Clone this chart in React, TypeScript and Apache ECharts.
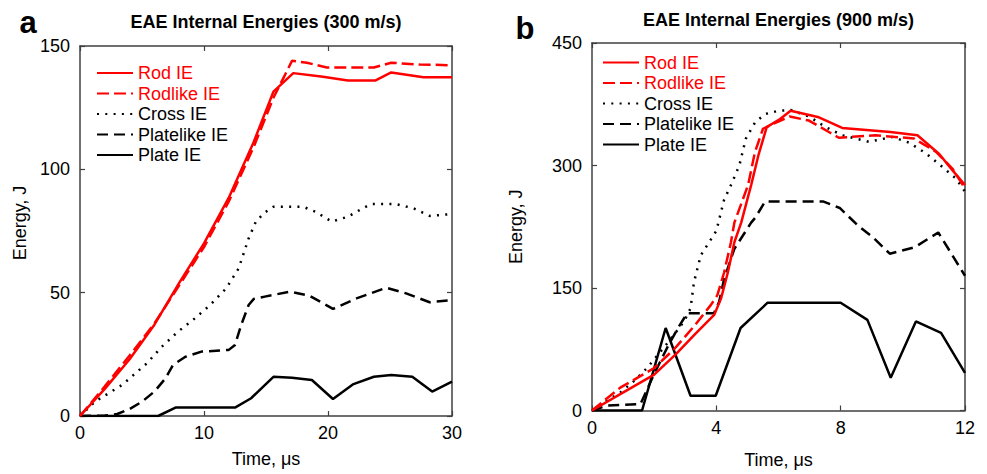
import React, { useEffect, useRef } from "react";
import * as echarts from "echarts";

// ---------- data (time µs, energy J) ----------
const rod300 = [[0,0],[2,11],[4,23],[6,37],[8,54],[10,70],[12,88.5],[14,111],[15.6,131.5],[17.2,139],[19.6,137.5],[21.6,136],[23.8,136],[25.1,139.3],[27.7,137.3],[30,137.3]];
const rodlike300 = [[0,0],[2,12],[4,24.5],[6,37.5],[8,53],[10,68.5],[12,87],[14,109],[15.6,129],[16.4,137],[17.1,144],[18.3,143.2],[19.9,141.3],[23.7,141.3],[25.1,143.2],[27.4,142.5],[30,142.2]];
const cross300 = [[0,0],[1.2,5.8],[2.3,9.2],[3.4,12.6],[5.4,21.4],[6.6,28.1],[7.9,34.2],[9.1,38.9],[10.5,45],[11.8,51.8],[12.8,59.9],[13.6,72],[14.2,79],[14.9,82.5],[15.6,84.8],[18,84.8],[19,82.8],[20.3,78.8],[21.6,80.8],[22.8,84.2],[23.5,85.9],[25.5,85.9],[26.9,84.2],[28.2,81.1],[30,81.9]];
const platelike300 = [[0,0],[2,0.2],[3,0.8],[4,2.8],[5,5.8],[6,9.9],[6.9,15.3],[7.5,20.7],[8.5,24],[9.8,26.1],[12,26.8],[12.5,28.8],[13,36.9],[13.6,45],[14,47.4],[14.9,48.4],[16.9,50.4],[18.5,48.8],[20.4,43.4],[22.3,47.7],[24.7,52],[26.3,49.7],[28.2,46.1],[30,47]];
const plate300 = [[0,0],[6.3,0],[7.7,3.4],[12.5,3.4],[13.8,7.2],[15.6,15.9],[17.1,15.5],[18.7,14.6],[20.4,6.9],[22,12.8],[23.7,15.9],[25.1,16.6],[26.8,15.9],[28.4,9.9],[30,13.9]];

const rod900 = [[0,0],[0.91,20],[2,44],[2.7,69],[3.3,93],[3.93,117],[4.15,137],[4.37,169],[4.58,206],[4.8,230],[5.12,276],[5.35,312],[5.62,347],[6.05,357],[6.39,367],[7.3,359],[8.05,346],[9.6,341],[10.47,337],[11.17,314],[11.6,294],[12,276]];
const rodlike900 = [[0,0],[0.91,28],[2,52],[2.64,75],[3.28,103],[3.82,129],[4.03,141],[4.25,169],[4.47,206],[4.58,230],[5.02,276],[5.24,316],[5.5,345],[5.77,350],[6.36,360],[6.98,355],[7.62,341],[7.94,334],[9.12,337],[10.36,333],[11.06,317],[11.6,296],[12,272]];
const cross900 = [[0,0],[0.48,12],[0.91,22],[1.35,36],[1.77,52],[2.31,77],[2.64,93],[2.96,109],[3.17,125],[3.28,157],[3.5,190],[4.0,220],[4.25,258],[4.47,276],[4.74,300],[4.95,333],[5.25,353],[5.57,363],[6,367],[6.39,368],[6.98,360],[7.52,347],[8.05,337],[8.91,329],[9.66,335],[10.2,328],[10.74,315],[11.28,298],[11.71,284],[12,268]];
const platelike900 = [[0,0],[0.48,6],[1.56,8],[1.99,44],[2.42,77],[2.75,100],[3.06,119],[3.92,119],[4.09,133],[4.25,161],[4.58,198],[5.12,230],[5.25,236],[5.57,256],[7.43,256],[7.97,248],[8.57,226],[9.04,212],[9.58,192],[10.39,200],[11.14,218],[12,165]];
const plate900 = [[0,0],[1.61,0],[2.37,101],[3.17,18],[3.98,18],[4.78,101],[5.65,132],[8,132],[8.86,111],[9.61,40],[10.42,109],[11.23,95],[12,46]];

const seriesNames = ["Rod IE", "Rodlike IE", "Cross IE", "Platelike IE", "Plate IE"];
const titles = ["EAE Internal Energies (300 m/s)", "EAE Internal Energies (900 m/s)"];
const panelLetters = ["a", "b"];
const xName = "Time, μs";
const yName = "Energy, J";

const FONT = 'Arial, "Liberation Sans", sans-serif';
const RED = "#ff0000";
const BLACK = "#000000";
const FRAME = "#404040";

const styles = [
  { color: RED, type: "solid" as any },
  { color: RED, type: [12, 5] as any },
  { color: BLACK, type: [2, 6.3] as any },
  { color: BLACK, type: [11, 6] as any },
  { color: BLACK, type: "solid" as any },
];

function axisBase(showLabel: boolean, margin: number) {
  return {
    type: "value" as const,
    axisLine: { show: true, onZero: false, lineStyle: { color: FRAME, width: 1.5 } },
    axisTick: { show: true, inside: true, length: 5, lineStyle: { color: FRAME, width: 1.2 } },
    axisLabel: { show: showLabel, margin, fontSize: 18, color: "#000", fontFamily: FONT },
    splitLine: { show: false },
    nameTextStyle: { fontSize: 18, color: "#000", fontFamily: FONT },
  };
}

export default function App() {
  const ref = useRef<HTMLDivElement>(null);
  useEffect(() => {
    if (!ref.current) return;
    const chart = echarts.init(ref.current, null, { renderer: "svg" });
    const panels = [
      { data: [rod300, rodlike300, cross300, platelike300, plate300], xMax: 30, xInt: 10, yMax: 150, yInt: 50 },
      { data: [rod900, rodlike900, cross900, platelike900, plate900], xMax: 12, xInt: 4, yMax: 450, yInt: 150 },
    ];
    const xAxis: any[] = [];
    const yAxis: any[] = [];
    const series: any[] = [];
    const xGaps = [34, 40.5];
    const yGaps = [51, 67];
    const yPad = [[0, 0, 0, 16], [0, 0, 0, 0]];
    panels.forEach((p, gi) => {
      xAxis.push({ ...axisBase(true, 8), gridIndex: gi, position: "bottom", min: 0, max: p.xMax, interval: p.xInt,
        name: xName, nameLocation: "middle", nameGap: xGaps[gi] });
      xAxis.push({ ...axisBase(false, 8), gridIndex: gi, position: "top", min: 0, max: p.xMax, interval: p.xInt });
      yAxis.push({ ...axisBase(true, 10), gridIndex: gi, position: "left", min: 0, max: p.yMax, interval: p.yInt,
        name: yName, nameLocation: "middle", nameGap: yGaps[gi], nameRotate: 90,
        nameTextStyle: { fontSize: 18, color: "#000", fontFamily: FONT, padding: yPad[gi] } });
      yAxis.push({ ...axisBase(false, 10), gridIndex: gi, position: "right", min: 0, max: p.yMax, interval: p.yInt });
      p.data.forEach((d, si) => {
        series.push({
          type: "line",
          name: seriesNames[si],
          xAxisIndex: gi * 2,
          yAxisIndex: gi * 2,
          data: d,
          symbol: "none",
          showSymbol: false,
          lineStyle: { color: styles[si].color, width: 2.5, type: styles[si].type },
          itemStyle: { color: styles[si].color },
          z: 10 - si,
        });
      });
    });
    const legendData = seriesNames.map((n, i) => ({
      name: n,
      textStyle: { color: i < 2 ? RED : "#000" },
    }));
    const legendBase = {
      orient: "vertical",
      itemWidth: 36,
      itemHeight: 14,
      itemGap: 2.5,
      padding: 0,
      selectedMode: false,
      data: legendData,
      itemStyle: { opacity: 0, borderWidth: 0 },
      textStyle: { fontSize: 18, fontFamily: FONT, lineHeight: 18 },
    };
    chart.setOption({
      animation: false,
      backgroundColor: "#fff",
      grid: [
        { left: 80, top: 46, width: 372, height: 370 },
        { left: 592, top: 43, width: 373, height: 372 },
      ],
      xAxis,
      yAxis,
      legend: [
        { ...legendBase, left: 96, top: 64 },
        { ...legendBase, left: 602, top: 53.5 },
      ],
      graphic: [
        { type: "text", x: 266, y: 21.5, style: { text: titles[0], align: "center", verticalAlign: "middle", font: `bold 18px ${FONT}`, fill: "#000" } },
        { type: "text", x: 778.5, y: 19.5, style: { text: titles[1], align: "center", verticalAlign: "middle", font: `bold 18px ${FONT}`, fill: "#000" } },
        { type: "text", x: 28, y: 22, style: { text: panelLetters[0], align: "center", verticalAlign: "middle", font: `bold 31px ${FONT}`, fill: "#000" } },
        { type: "text", x: 525, y: 28, style: { text: panelLetters[1], align: "center", verticalAlign: "middle", font: `bold 31px ${FONT}`, fill: "#000" } },
      ],
      series,
    });
    return () => chart.dispose();
  }, []);
  return <div ref={ref} style={{ position: "fixed", left: 0, top: 0, width: 987, height: 474 }} />;
}
